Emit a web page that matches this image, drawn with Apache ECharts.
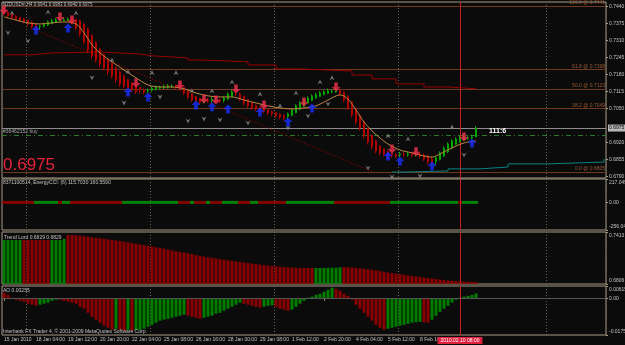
<!DOCTYPE html>
<html><head><meta charset="utf-8">
<script src="https://cdn.jsdelivr.net/npm/echarts@6/dist/echarts.min.js"></script>
<style>html,body{margin:0;padding:0;background:#0b0b0b;}#c{width:625px;height:345px;}</style>
</head><body><div id="c"></div>
<script>
// ---------------- DATA ----------------
const symbolName = 'NZDUSDm,H4';
const totalSlots = 151;
const opens = [0.7425,0.7418,0.7411,0.7404,0.7398,0.7393,0.7387,0.7380,0.7371,0.7363,
 0.7364,0.7369,0.7375,0.7380,0.7384,0.7387,0.7388,0.7390,0.7390,0.7386,
 0.7372,0.7354,0.7329,0.7302,0.7277,0.7256,0.7238,0.7222,0.7206,0.7190,
 0.7175,0.7160,0.7148,0.7138,0.7130,0.7122,0.7118,0.7120,0.7124,0.7128,
 0.7129,0.7131,0.7134,0.7135,0.7134,0.7131,0.7120,0.7107,0.7095,0.7087,
 0.7081,0.7082,0.7081,0.7084,0.7083,0.7081,0.7086,0.7096,0.7105,0.7105,
 0.7096,0.7084,0.7072,0.7062,0.7055,0.7050,0.7045,0.7039,0.7034,0.7028,
 0.7023,0.7019,0.7024,0.7034,0.7047,0.7059,0.7071,0.7081,0.7090,0.7096,
 0.7103,0.7108,0.7113,0.7114,0.7118,0.7112,0.7097,0.7075,0.7050,0.7024,
 0.7000,0.6973,0.6948,0.6926,0.6907,0.6894,0.6885,0.6877,0.6875,0.6872,
 0.6874,0.6873,0.6875,0.6874,0.6875,0.6872,0.6865,0.6855,0.6848,0.6855,
 0.6868,0.6884,0.6899,0.6913,0.6923,0.6930,0.6936,0.6937,0.6941];
const closes = [0.7411,0.7404,0.7396,0.7392,0.7388,0.7381,0.7373,0.7362,0.7354,0.7365,
 0.7373,0.7381,0.7385,0.7388,0.7390,0.7389,0.7391,0.7381,0.7358,0.7335,
 0.7304,0.7274,0.7251,0.7235,0.7220,0.7205,0.7190,0.7174,0.7159,0.7144,
 0.7136,0.7128,0.7121,0.7113,0.7121,0.7113,0.7121,0.7128,0.7132,0.7130,
 0.7133,0.7136,0.7135,0.7132,0.7128,0.7109,0.7094,0.7082,0.7079,0.7075,
 0.7082,0.7079,0.7086,0.7082,0.7079,0.7090,0.7105,0.7113,0.7105,0.7086,
 0.7071,0.7060,0.7052,0.7048,0.7044,0.7040,0.7033,0.7029,0.7021,0.7017,
 0.7014,0.7029,0.7044,0.7060,0.7071,0.7082,0.7090,0.7098,0.7102,0.7109,
 0.7113,0.7117,0.7115,0.7121,0.7105,0.7082,0.7052,0.7025,0.6998,0.6975,
 0.6945,0.6922,0.6903,0.6887,0.6880,0.6876,0.6868,0.6872,0.6868,0.6876,
 0.6872,0.6876,0.6872,0.6876,0.6868,0.6857,0.6845,0.6841,0.6861,0.6880,
 0.6899,0.6914,0.6926,0.6933,0.6937,0.6941,0.6937,0.6941,0.6975];
const highs = [0.7432,0.7421,0.7414,0.7407,0.7401,0.7396,0.7390,0.7383,0.7374,0.7370,
 0.7378,0.7386,0.7392,0.7396,0.7397,0.7396,0.7398,0.7399,0.7394,0.7390,
 0.7376,0.7358,0.7333,0.7306,0.7281,0.7260,0.7242,0.7226,0.7210,0.7194,
 0.7179,0.7164,0.7150,0.7140,0.7132,0.7127,0.7126,0.7134,0.7138,0.7137,
 0.7140,0.7143,0.7142,0.7141,0.7146,0.7133,0.7123,0.7110,0.7098,0.7090,
 0.7089,0.7090,0.7093,0.7092,0.7088,0.7096,0.7111,0.7122,0.7120,0.7110,
 0.7099,0.7087,0.7075,0.7065,0.7058,0.7053,0.7048,0.7042,0.7037,0.7031,
 0.7026,0.7034,0.7050,0.7066,0.7078,0.7089,0.7097,0.7104,0.7110,0.7116,
 0.7120,0.7126,0.7124,0.7130,0.7126,0.7115,0.7100,0.7078,0.7053,0.7027,
 0.7003,0.6976,0.6951,0.6929,0.6910,0.6897,0.6888,0.6880,0.6879,0.6883,
 0.6883,0.6884,0.6882,0.6884,0.6882,0.6878,0.6874,0.6866,0.6866,0.6886,
 0.6905,0.6920,0.6932,0.6940,0.6945,0.6950,0.6948,0.6949,0.6983];
const lows = [0.7405,0.7398,0.7390,0.7386,0.7380,0.7375,0.7366,0.7354,0.7345,0.7350,
 0.7360,0.7365,0.7372,0.7377,0.7381,0.7384,0.7384,0.7375,0.7350,0.7325,
 0.7295,0.7262,0.7240,0.7225,0.7208,0.7195,0.7178,0.7165,0.7148,0.7132,
 0.7128,0.7120,0.7112,0.7105,0.7106,0.7104,0.7107,0.7114,0.7118,0.7122,
 0.7124,0.7126,0.7128,0.7126,0.7122,0.7102,0.7086,0.7074,0.7072,0.7066,
 0.7069,0.7072,0.7072,0.7074,0.7070,0.7073,0.7082,0.7093,0.7098,0.7078,
 0.7062,0.7052,0.7045,0.7040,0.7036,0.7032,0.7025,0.7020,0.7013,0.7008,
 0.7004,0.7008,0.7020,0.7031,0.7044,0.7056,0.7068,0.7078,0.7087,0.7093,
 0.7100,0.7105,0.7108,0.7109,0.7098,0.7074,0.7044,0.7016,0.6988,0.6965,
 0.6935,0.6912,0.6893,0.6878,0.6870,0.6866,0.6858,0.6860,0.6860,0.6861,
 0.6864,0.6865,0.6864,0.6866,0.6860,0.6849,0.6836,0.6830,0.6835,0.6851,
 0.6864,0.6880,0.6895,0.6909,0.6919,0.6927,0.6930,0.6932,0.6940];

const maIdx = [0,3,6,9,12,15,18,20,22,24,27,30,33,36,39,42,45,48,51,54,57,60,63,66,69,72,75,78,81,84,86,88,90,92,94,96,99,102,105,107,109,112,115,118];
const maVal = [0.7400,0.7388,0.7377,0.7373,0.7377,0.7381,0.7373,0.7339,0.7293,0.7262,0.7228,0.7197,0.7167,0.7140,0.7132,0.7132,0.7125,0.7109,0.7098,0.7094,0.7094,0.7082,0.7071,0.7060,0.7052,0.7048,0.7052,0.7060,0.7082,0.7102,0.7086,0.7044,0.6998,0.6964,0.6937,0.6914,0.6891,0.6880,0.6868,0.6864,0.6876,0.6899,0.6918,0.6926];

const slowIdx = [0,7,12,24,29,34,37,42,46,49,55,61,68,74,81,87,92,98,105,111,118];
const slowVal = [0.7255,0.7262,0.7266,0.7262,0.7258,0.7251,0.7247,0.7243,0.7235,0.7232,0.7228,0.7216,0.7201,0.7197,0.7193,0.7178,0.7163,0.7144,0.7132,0.7125,0.7125];

const cyanIdx = [97,101,111,119,126,136,150];
const cyanVal = [0.6807,0.6811,0.6819,0.6826,0.6838,0.6845,0.6857];

const trendIdx = [8,92];
const trendVal = [0.7349,0.6809];

const buyArrowIdx = [8,16,31,36,48,52,56,64,71,77,96,99,107,117];
const buyArrowVal = [0.7350,0.7358,0.7113,0.7094,0.7063,0.7056,0.7048,0.7036,0.6998,0.7052,0.6868,0.6849,0.6830,0.6918];
const sellArrowIdx = [0,14,17,33,44,50,53,58,65,75,83,97,103,115];
const sellArrowVal = [0.7427,0.7400,0.7388,0.7147,0.7140,0.7086,0.7082,0.7124,0.7063,0.7075,0.7132,0.6895,0.6884,0.6941];

const fracUpIdx = [2,11,18,27,31,37,43,47,52,57,64,69,73,79,82,96,101,112];
const fracUpVal = [0.7415,0.7419,0.7415,0.7235,0.7190,0.7186,0.7186,0.7117,0.7117,0.7151,0.7105,0.7060,0.7109,0.7151,0.7167,0.6945,0.6933,0.6979];
const fracDnIdx = [1,6,22,30,39,46,50,54,61,71,76,81,91,97,104,115];
const fracDnVal = [0.7339,0.7308,0.7167,0.7071,0.7094,0.7002,0.7010,0.7006,0.6994,0.6975,0.7021,0.7067,0.6822,0.6788,0.6792,0.6872];

const fibLevels = [100.0, 61.8, 50.0, 38.2, 0.0];
const fibPrices = [0.7441, 0.7198, 0.7123, 0.7049, 0.6805];
const buyOrderPrice = 0.6949;
const buyOrderLabel = '#36462152 buy';
const nowIdx = 114;
const nowLabel = '2010.02.10 08:00';
const timerText = '111:6';

const mainTicks = [0.7440,0.7375,0.7310,0.7245,0.7180,0.7115,0.7050,0.6920,0.6855,0.6790];
const mainRange = [0.6784, 0.7457];

const cciDir = [0,0,0,0,0,0,0,0, 1,1,1,1,1,1, 0, 1,1, 0,0,0,0,0,0,0,0,0,0,0,0,0,
 1,1,1,1,1,1,1,1,1,1,1,1,1,1, 0,0,0, 1, 0,0,0, 1, 0,0,0, 1,1,1,1, 0,0,0, 1,1,
 0,0,0,0,0,0,0, 1,1,1,1,1,1,1,1,1,1,1,1, 0,0,0,0,0,0,0,0,0,0,0,0,0,0,
 1,1,1,1,1,1,1,1,1,1,1,1,1,1,1,1,1, 0, 1,1,1,1];
const cciTicks = [217.0455, 0, -256.0455];
const cciTickLabels = ['217.0455', '0.00', '-256.0455'];
const cciTitle = '8371100514, EnergyCCI: (6) 115.7030 160.5590';

const tlVal = [0.7331,0.7331,0.7331,0.7331,0.7331,
 0.7320,0.7320,0.7320,0.7320,0.7320,0.7320,0.7320,
 0.7331,0.7331,0.7331,0.7331,
 0.7378,0.7378,0.7376,0.7370,0.7364,0.7358,0.7352,0.7346,0.7340,0.7334,0.7328,0.7321,0.7315,0.7308,
 0.7300,0.7292,0.7284,0.7276,0.7268,0.7260,0.7252,0.7244,0.7236,0.7228,0.7218,0.7208,0.7198,0.7188,0.7180,0.7172,0.7164,0.7154,0.7144,0.7134,
 0.7126,0.7118,0.7111,0.7104,0.7097,0.7090,0.7083,0.7076,0.7069,0.7063,0.7057,0.7051,0.7045,0.7039,0.7033,0.7027,0.7021,0.7016,0.7012,0.7008,0.7004,0.7001,0.6998,0.6996,0.6994,0.6993,0.6993,0.6993,
 0.6993,0.6993,0.6994,0.6995,0.6996,0.6997,0.7000,
 0.7004,0.7002,0.6998,
 0.6995,0.6990,0.6984,0.6978,0.6971,0.6964,0.6957,0.6949,
 0.6940,0.6934,0.6928,0.6921,0.6914,0.6907,0.6900,0.6894,0.6888,0.6882,0.6876,0.6870,0.6864,0.6858,0.6852,0.6847,0.6843,0.6840,0.6837,0.6835,0.6833,0.6831,0.6829];
const tlDir = [1,1,1,1,1, 0,0,0,0,0,0,0, 1,1,1,1,
 0,0,0,0,0,0,0,0,0,0,0,0,0,0,0,0,0,0,0,0,0,0,0,0,0,0,0,0,0,0,0,0,0,0,0,0,0,0,0,0,0,0,0,0,0,0,0,0,0,0,0,0,0,0,0,0,0,0,0,0,0,0,
 1,1,1,1,1,1,1,
 0,0,0,0,0,0,0,0,0,0,0,0,0,0,0,0,0,0,0,0,0,0,0,0,0,0,0,0,0,0,0,0,0,0];
const tlTicks = [0.7413, 0.6806];
const tlTickLabels = ['0.7413', '0.6806'];

const aoVal = [0.0029,0.0019,0.0005,-0.0005,-0.0010,-0.0014,-0.0024,-0.0029,-0.0034,-0.0029,
 -0.0024,-0.0019,-0.0010,-0.0005,-0.0005,-0.0010,-0.0014,-0.0019,-0.0024,-0.0039,
 -0.0048,-0.0068,-0.0087,-0.0101,-0.0116,-0.0130,-0.0140,-0.0150,-0.0145,-0.0150,
 -0.0155,-0.0150,-0.0155,-0.0152,-0.0150,-0.0145,-0.0135,-0.0126,-0.0116,-0.0106,
 -0.0101,-0.0097,-0.0092,-0.0087,-0.0082,-0.0077,-0.0082,-0.0087,-0.0092,-0.0097,
 -0.0092,-0.0087,-0.0082,-0.0072,-0.0068,-0.0058,-0.0048,-0.0039,-0.0029,-0.0019,
 -0.0024,-0.0029,-0.0034,-0.0039,-0.0043,-0.0039,-0.0034,-0.0032,-0.0039,-0.0048,
 -0.0053,-0.0058,-0.0053,-0.0039,-0.0024,-0.0010,0.0005,0.0010,0.0019,0.0024,
 0.0034,0.0043,0.0053,0.0048,0.0039,0.0024,0.0014,-0.0005,-0.0029,-0.0048,
 -0.0068,-0.0087,-0.0106,-0.0126,-0.0140,-0.0150,-0.0145,-0.0140,-0.0135,-0.0130,
 -0.0126,-0.0121,-0.0116,-0.0113,-0.0111,-0.0113,-0.0116,-0.0101,-0.0082,-0.0063,
 -0.0048,-0.0034,-0.0019,-0.0005,0.0005,0.0010,0.0014,0.0019,0.00255];
const aoDir = [0,0,0,0,0,0,0,0,0, 1,1,1,1,1, 0,0,0,0,0,0,0,0,0,0,0,0,0,0, 1, 0,0, 1, 0,
 1,1,1,1,1,1,1,1,1,1,1,1,1, 0,0,0,0, 1,1,1,1,1,1,1,1,1,1, 0,0,0,0,0, 1,1,1, 0,0,0,0,
 1,1,1,1,1,1,1,1,1,1,1, 0,0,0,0,0,0,0,0,0,0,0,0,0, 1,1,1,1,1,1,1,1,1, 0,0, 1,1,1,1,1,1,1,1,1,1,1,1];
const aoTicks = [0.00615, 0, -0.01752];
const aoTickLabels = ['0.00615', '0.00', '-0.01752'];

const timeLabelIdx = [0,8,16,24,32,40,48,56,64,72,80,88,96,104];
const timeLabels = ['15 Jan 2010','18 Jan 04:00','19 Jan 12:00','20 Jan 20:00','22 Jan 04:00','25 Jan 08:00','26 Jan 16:00','28 Jan 00:00','29 Jan 08:00','1 Feb 12:00','2 Feb 20:00','4 Feb 04:00','5 Feb 12:00','8 Feb 16:00'];
const weekLines = [6, 37, 68, 99, 136];
const footer = 'Interbank FX Trader 4, \u00a9 2001-2009 MetaQuotes Software Corp.';

// ---------------- BUILD ----------------
const N = closes.length;
const candleData = closes.map((c, i) => [opens[i], c, lows[i], highs[i]]);
const cats = Array.from({length: totalSlots}, (_, i) => 'b' + i);
const labelMap = Array.from({length: totalSlots}, () => '');
timeLabelIdx.forEach((ix, k) => { labelMap[ix] = timeLabels[k]; });
const pairs = (a, b) => a.map((x, i) => [x, b[i]]);
const last = N - 1;

const BG = '#0b0b0b', FRAME = '#a89b86', TXT = '#c4c4c4';
const UP = '#00a800', DN = '#b00000';
const HG = '#007c00', HR = '#8a0000';
const RED_LINE = '#c81e1e';
const FONT = 'Liberation Sans';

const gridTops = [[2,176],[179,51],[232,52],[286,49]];
const grids = gridTops.map(g => ({left:2, right:19, top:g[0], height:g[1], show:true,
  borderColor:FRAME, borderWidth:1, backgroundColor:'transparent', containLabel:false, outerBoundsMode:'none'}));

function xAx(k) {
  return {type:'category', gridIndex:k, data:cats, boundaryGap:true,
    axisLine:{show:false},
    axisTick:{show:k === 3, interval:(i) => labelMap[i] !== '', alignWithLabel:true, length:2, lineStyle:{color:FRAME}},
    axisLabel:{show:k === 3, interval:(i) => labelMap[i] !== '', formatter:(v, i) => labelMap[i], align:'left',
      fontSize:5, color:TXT, margin:2, fontFamily:FONT},
    splitLine:{show:true, interval:(i) => weekLines.includes(i), lineStyle:{color:'#6e604e', type:[1,2], width:1}}};
}
function yAx(k, min, max, ticks, labels, edge) {
  return {type:'value', gridIndex:k, position:'right', min:min, max:max, scale:true,
    splitLine:{show:false}, axisLine:{show:false},
    axisTick:{show:true, customValues:ticks, length:2, lineStyle:{color:FRAME}},
    axisLabel:{customValues:ticks, fontSize:5, color:TXT, margin:3, fontFamily:FONT,
      formatter:(v) => {
        let j = ticks.findIndex(t => Math.abs(t - v) < 1e-9);
        const s = j >= 0 ? labels[j] : String(v);
        if (edge && Math.abs(v - max) < 1e-9) return '{t|' + s + '}';
        if (edge && Math.abs(v - min) < 1e-9) return '{b|' + s + '}';
        return s;
      },
      rich:{t:{padding:[7,0,0,0], fontSize:5, color:TXT, fontFamily:FONT}, b:{padding:[0,0,7,0], fontSize:5, color:TXT, fontFamily:FONT}}}};
}
const redV = {xAxis:nowIdx, lineStyle:{color:RED_LINE, width:1, type:'solid'}, label:{show:false}};

const series = [];
series.push({type:'candlestick', xAxisIndex:0, yAxisIndex:0, data:candleData, barWidth:1.5, z:3,
  itemStyle:{color:UP, color0:DN, borderColor:UP, borderColor0:DN, borderWidth:1},
  markLine:{silent:true, symbol:['none','none'], animation:false, precision:6, z:1,
    data: fibLevels.map((lv, j) => ({yAxis:fibPrices[j], lineStyle:{color:'#6f3a1c', width:1, type:'solid'},
      label:{show:true, position:'insideEndTop', formatter:lv.toFixed(1) + ' @ ' + fibPrices[j].toFixed(4), color:'#9a5a34', fontSize:5, distance:1, fontFamily:FONT}}))
    .concat([
      {yAxis:closes[last], lineStyle:{color:'#8c8c8c', width:1, type:'solid'},
        label:{show:true, position:'end', formatter:closes[last].toFixed(4), color:'#000', backgroundColor:'#b8b8b8', fontSize:5, padding:[1,1], distance:2, fontFamily:FONT}},
      {yAxis:buyOrderPrice, lineStyle:{color:'#2b7a2b', width:1, type:[5,3,1,3]},
        label:{show:true, position:'insideStartTop', formatter:buyOrderLabel, color:'#a8a8a8', fontSize:5, distance:1, fontFamily:FONT}},
      redV])}});
series.push({type:'line', xAxisIndex:0, yAxisIndex:0, data:pairs(slowIdx, slowVal), step:'end', symbol:'none', z:2,
  lineStyle:{color:'#990000', width:1}});
series.push({type:'line', xAxisIndex:0, yAxisIndex:0, data:pairs(cyanIdx, cyanVal), step:'end', symbol:'none', z:2,
  lineStyle:{color:'#0a8080', width:1}});
series.push({type:'line', xAxisIndex:0, yAxisIndex:0, data:pairs(trendIdx, trendVal), symbol:'none', z:2,
  lineStyle:{color:'#b00000', width:1, type:[1,2]}});
series.push({type:'line', xAxisIndex:0, yAxisIndex:0, data:pairs(maIdx, maVal), symbol:'none', smooth:0.3, z:4,
  lineStyle:{color:'#b8843e', width:1}});
const upArrow = 'path://M5,0 L10,5 L7,5 L7,10 L3,10 L3,5 L0,5 Z';
const dnArrow = 'path://M3,0 L7,0 L7,5 L10,5 L5,10 L0,5 L3,5 Z';
series.push({type:'scatter', xAxisIndex:0, yAxisIndex:0, data:pairs(buyArrowIdx, buyArrowVal), symbol:upArrow, symbolSize:[9,9], z:6,
  itemStyle:{color:'#1830ff'}});
series.push({type:'scatter', xAxisIndex:0, yAxisIndex:0, data:pairs(sellArrowIdx, sellArrowVal), symbol:dnArrow, symbolSize:[9,9], z:6,
  itemStyle:{color:'#f0304e'}});
series.push({type:'scatter', xAxisIndex:0, yAxisIndex:0, data:pairs(fracUpIdx, fracUpVal), symbol:'path://M5,0 L10,9 L5,6 L0,9 Z', symbolSize:[5,5], z:5,
  itemStyle:{color:'#8a8a8a'}});
series.push({type:'scatter', xAxisIndex:0, yAxisIndex:0, data:pairs(fracDnIdx, fracDnVal), symbol:'path://M0,0 L5,3 L10,0 L5,9 Z', symbolSize:[5,5], z:5,
  itemStyle:{color:'#8a8a8a'}});
// CCI strip
series.push({type:'scatter', xAxisIndex:1, yAxisIndex:1, symbol:'rect', symbolSize:[4,3],
  data: cciDir.map((d, i) => ({value:[i, 0], itemStyle:{color: d ? '#00a000' : '#a00000'}})),
  markLine:{silent:true, symbol:['none','none'], animation:false, precision:6, data:[redV]}});
// Trend Lord
series.push({type:'bar', xAxisIndex:2, yAxisIndex:2, barWidth:3,
  data: tlVal.map((v, i) => ({value:v, itemStyle:{color: tlDir[i] ? HG : HR}})),
  markLine:{silent:true, symbol:['none','none'], animation:false, precision:6, data:[redV]}});
// AO
series.push({type:'bar', xAxisIndex:3, yAxisIndex:3, barWidth:3,
  data: aoVal.map((v, i) => ({value:v, itemStyle:{color: aoDir[i] ? HG : HR}})),
  markLine:{silent:true, symbol:['none','none'], animation:false, precision:6, data:[
    {yAxis:0, lineStyle:{color:'#555555', width:1, type:'solid'}, label:{show:false}},
    {xAxis:nowIdx, lineStyle:{color:RED_LINE, width:1, type:'solid'},
      label:{show:true, position:'start', formatter:nowLabel, color:'#ffffff', backgroundColor:'#e0203c', fontSize:5, padding:[1,3], distance:2, fontFamily:FONT}}]}});

const hdr = symbolName + ' ' + opens[last].toFixed(4) + ' ' + highs[last].toFixed(4) + ' ' + lows[last].toFixed(4) + ' ' + closes[last].toFixed(4);
const txt = (l, t, s, extra) => ({type:'text', left:l, top:t, z:100, style:Object.assign({text:s, fill:TXT, font:'5px "' + FONT + '"'}, extra || {})});

const option = {
  backgroundColor: BG,
  animation: false,
  textStyle:{fontFamily:FONT},
  grid: grids,
  xAxis: [xAx(0), xAx(1), xAx(2), xAx(3)],
  yAxis: [
    yAx(0, mainRange[0], mainRange[1], mainTicks, mainTicks.map(v => v.toFixed(4)), false),
    yAx(1, cciTicks[2], cciTicks[0], cciTicks, cciTickLabels, true),
    yAx(2, tlTicks[1], tlTicks[0], tlTicks, tlTickLabels, true),
    yAx(3, aoTicks[2], aoTicks[0], aoTicks, aoTickLabels, true)
  ],
  series: series,
  graphic: [
    txt(3, 2, hdr, {font:'4.5px "' + FONT + '"'}),
    txt(3, 157, closes[last].toFixed(4), {fill:'#e8203c', font:'17px "' + FONT + '"'}),
    txt(489, 128, timerText, {fill:'#ffffff', font:'bold 7px "' + FONT + '"'}),
    txt(3, 180, cciTitle),
    txt(3, 235, 'Trend Lord ' + tlVal[last].toFixed(4) + ' ' + tlVal[last].toFixed(4), {backgroundColor:BG, padding:[0,1]}),
    txt(3, 288, 'AO ' + aoVal[last].toFixed(5)),
    txt(3, 329, footer)
  ]
};
const chart = echarts.init(document.getElementById('c'), null, {renderer:'canvas'});
chart.setOption(option);
</script>
</body></html>
